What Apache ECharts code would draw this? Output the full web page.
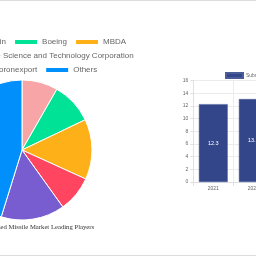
<!DOCTYPE html>
<html>
<head>
<meta charset="utf-8">
<script src="https://cdn.jsdelivr.net/npm/echarts@6/dist/echarts.min.js"></script>
<style>
html,body{margin:0;padding:0;width:256px;height:256px;overflow:hidden;background:#fff;position:relative;}
#pie{position:absolute;left:-200px;top:0;width:444px;height:256px;}
#bar{position:absolute;left:0;top:0;width:340px;height:256px;}
.ln{position:absolute;left:0;width:256px;height:1px;background:#dcdcdc;}
</style>
</head>
<body>
<div id="pie"></div>
<div id="bar"></div>
<div class="ln" style="top:0"></div>
<div class="ln" style="top:255px"></div>
<script>
const playerNames = ["Lockheed Martin", "Boeing", "MBDA", "China Aerospace Science and Technology Corporation", "Rosoboronexport", "Others"];
const playerShares = [8.3, 9.6, 13.9, 8.3, 14.7, 45.2];
const playerColors = ["#F8A5A8", "#00E396", "#FEB019", "#FF4560", "#775DD0", "#008FFB"];
const pieTitle = "Submarine Launched Missile Market Leading Players";

const years = ["2021", "2022"];
const marketValues = [12.3, 13.1];
const barSeriesName = "Submarine Launched Missile Market Size";

const pie = echarts.init(document.getElementById('pie'));
const legendBase = {
  left: 'center', itemWidth: 24, itemHeight: 6, itemGap: 7,
  icon: 'rect',
  textStyle: {fontSize: 8, color: '#666', fontFamily: 'Liberation Sans, Arial, sans-serif', padding: [0,0,0,-1]}
};
pie.setOption({
  animation: false,
  title: {text: pieTitle, left: 'center', top: 219,
    textStyle: {fontSize: 6.7, fontWeight: 'normal', color: '#333', fontFamily: 'Liberation Serif, Times New Roman, serif'}},
  legend: [
    Object.assign({}, legendBase, {top: 33, data: playerNames.slice(0,3)}),
    Object.assign({}, legendBase, {top: 47, data: playerNames.slice(3,4)}),
    Object.assign({}, legendBase, {top: 61, data: playerNames.slice(4,6)})
  ],
  series: [{
    type: 'pie', center: [222, 150], radius: 70, startAngle: 90, clockwise: true,
    label: {show: false}, labelLine: {show: false},
    itemStyle: {borderColor: '#fff', borderWidth: 1},
    data: playerNames.map((n,i)=>({name:n, value: playerShares[i], itemStyle:{color: playerColors[i]}}))
  }]
});

const bar = echarts.init(document.getElementById('bar'));
bar.setOption({
  animation: false,
  legend: {left: 220, top: 67, itemWidth: 17, itemHeight: 5, icon: 'rect',
    textStyle: {fontSize: 5, color: '#666', fontFamily: 'Liberation Sans, Arial, sans-serif', padding:[0,0,0,-2]},
    data: [barSeriesName]},
  grid: {left: 193.3, top: 80.7, width: 80, height: 101.3, outerBoundsMode: 'none', containLabel: false},
  xAxis: {type: 'category', data: years, boundaryGap: true,
    axisLine: {lineStyle: {color: '#e0e0e0'}},
    axisTick: {show: true, length: 4, lineStyle: {color: '#e0e0e0'}},
    splitLine: {show: true, lineStyle: {color: '#ececec'}},
    axisLabel: {fontSize: 5, color: '#666', margin: 4, fontFamily: 'Liberation Sans, Arial, sans-serif'}},
  yAxis: {type: 'value', min: 0, max: 16, interval: 2,
    axisLine: {show: true, lineStyle: {color: '#e0e0e0'}},
    axisTick: {show: true, length: 3, lineStyle: {color: '#e0e0e0'}},
    splitLine: {show: true, lineStyle: {color: '#ececec'}},
    axisLabel: {fontSize: 5, color: '#666', margin: 5, fontFamily: 'Liberation Sans, Arial, sans-serif'}},
  series: [{
    name: barSeriesName, type: 'bar', data: marketValues, barWidth: '72%',
    itemStyle: {color: '#34468A', borderColor: '#4a5c9a', borderWidth: 0.5},
    label: {show: true, position: 'inside', color: '#fff', fontSize: 5.5, fontFamily: 'Liberation Sans, Arial, sans-serif'}
  }]
});
</script>
</body>
</html>
